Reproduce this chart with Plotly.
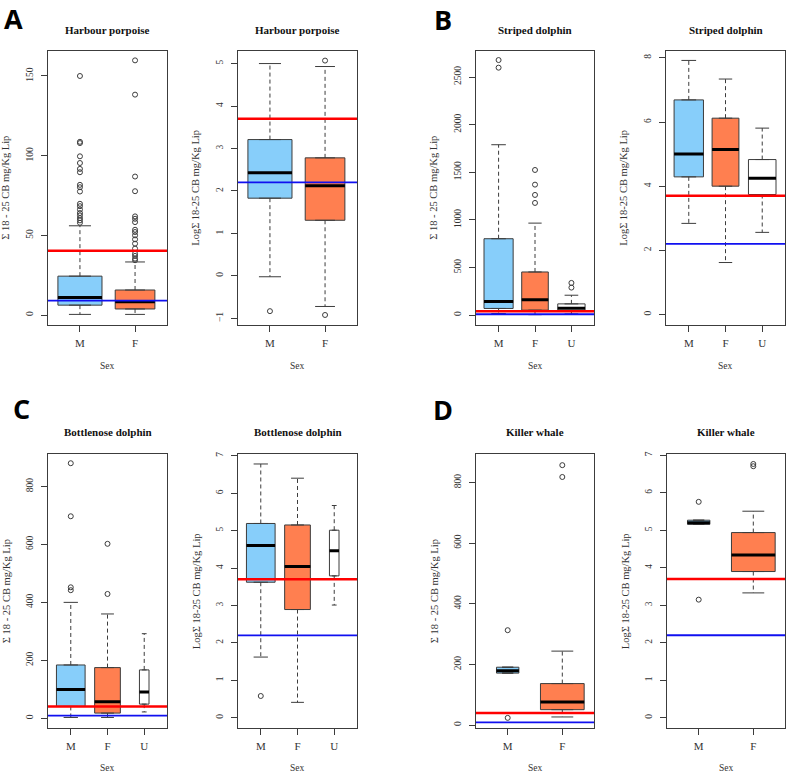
import plotly.graph_objects as go

SEX2 = ["M", "F"]
SEX3 = ["M", "F", "U"]

# rows per sex: lower whisker, Q1, median, Q3, upper whisker
hp_raw_stats = [[0.4, 6.2, 11.0, 24.4, 56.0], [0.4, 3.8, 8.3, 15.7, 33.3]]
hp_raw_out = [
    [150, 108.7, 107.9, 99.6, 95.4, 91.7, 89.6, 81.7, 80.2, 77.5, 69.8, 68.3,
     66.2, 64.0, 62.5, 60.8, 59.4, 57.9],
    [159.8, 138.3, 86.9, 77.7, 61.9, 60.4, 58.3, 53.5, 52.1, 50.0, 47.5, 44.8,
     41.7, 38.5, 37.1, 35.4, 34.4],
]
hp_log_stats = [[-0.02, 1.83, 2.43, 3.21, 5.0], [-0.72, 1.31, 2.12, 2.78, 4.93]]
hp_log_out = [[-0.83], [5.07, -0.92]]

sd_raw_stats = [[17, 70, 142, 802, 1789], [5, 52, 162, 453, 966], [13, 45, 72, 118, 209]]
sd_raw_out = [[2678, 2598], [1524, 1370, 1262, 1178], [338, 289]]
sd_log_stats = [[2.84, 4.29, 5.0, 6.69, 7.92], [1.62, 4.0, 5.14, 6.12, 7.34], [2.56, 3.74, 4.25, 4.83, 5.81]]
sd_log_out = [[], [], []]

bd_raw_stats = [[3, 41, 99, 184, 400], [3, 18, 57, 175, 360], [22, 49, 91, 167, 292]]
bd_raw_out = [[880, 697, 452, 442], [602, 429], []]
bd_log_stats = [[1.62, 3.62, 4.6, 5.19, 6.78], [0.41, 2.89, 4.04, 5.15, 6.4], [3.01, 3.79, 4.46, 5.01, 5.67]]
bd_log_out = [[0.58], [], []]

kw_raw_stats = [[171.5, 171.5, 179, 191, 191], [27, 51, 76, 137, 244]]
kw_raw_out = [[313, 24], [857, 818]]
kw_log_stats = [[5.16, 5.16, 5.2, 5.27, 5.27], [3.33, 3.9, 4.34, 4.94, 5.51]]
kw_log_out = [[5.76, 3.15], [6.77, 6.71]]

# relative box widths (varwidth, proportional to sqrt(n))
hp_width = [0.8, 0.72]
sd_width = [0.8, 0.73, 0.75]
bd_width = [0.78, 0.70, 0.26]
kw_width = [0.41, 0.8]

RED_RAW, BLUE_RAW = 40.4, 9.0
RED_LOG, BLUE_LOG = 3.7, 2.2

RAW_TITLE = "Σ 18 - 25 CB mg/Kg Lip"
LOG_TITLE = "LogΣ 18-25 CB mg/Kg Lip"

FILL = ["#87CEFA", "#FF7F50", "#FFFFFF"]
EDGE = "#3c3c3c"
SERIF = "Liberation Serif"

W, H = 787, 774


def fx(p):
    return p / W


def fy(p):
    return 1 - p / H


def label(text, xp, yp, font, angle=0):
    return dict(text=text, x=fx(xp), y=fy(yp), xref="paper", yref="paper",
                xanchor="center", yanchor="middle", showarrow=False,
                textangle=angle, font=font)


# stats, outliers, sexes, widths, title, ytitle, yrange, dtick, frame(px), red, blue
panels = [
    (hp_raw_stats, hp_raw_out, SEX2, hp_width, "Harbour porpoise", RAW_TITLE, [-6.1, 165.8], 50, (48, 167, 48, 323), RED_RAW, BLUE_RAW),
    (hp_log_stats, hp_log_out, SEX2, hp_width, "Harbour porpoise", LOG_TITLE, [-1.15, 5.3], 1, (238, 357, 48, 323), RED_LOG, BLUE_LOG),
    (sd_raw_stats, sd_raw_out, SEX3, sd_width, "Striped dolphin", RAW_TITLE, [-101, 2775], 500, (476, 594, 48, 323), RED_RAW, BLUE_RAW),
    (sd_log_stats, sd_log_out, SEX3, sd_width, "Striped dolphin", LOG_TITLE, [-0.32, 8.22], 2, (666, 785, 48, 323), RED_LOG, BLUE_LOG),
    (bd_raw_stats, bd_raw_out, SEX3, bd_width, "Bottlenose dolphin", RAW_TITLE, [-34, 911], 200, (48, 167, 453, 728), RED_RAW, BLUE_RAW),
    (bd_log_stats, bd_log_out, SEX3, bd_width, "Bottlenose dolphin", LOG_TITLE, [-0.28, 7.04], 1, (238, 357, 453, 728), RED_LOG, BLUE_LOG),
    (kw_raw_stats, kw_raw_out, SEX2, kw_width, "Killer whale", RAW_TITLE, [-10, 893], 200, (476, 594, 453, 728), RED_RAW, BLUE_RAW),
    (kw_log_stats, kw_log_out, SEX2, kw_width, "Killer whale", LOG_TITLE, [-0.28, 7.03], 1, (667, 785, 453, 728), RED_LOG, BLUE_LOG),
]

fig = go.Figure()
annotations = []
shapes = []

for k, (stats, outs, sexes, widths, title, ytitle, yrange, dtick, frame, red, blue) in enumerate(panels, start=1):
    xa = "x" if k == 1 else f"x{k}"
    ya = "y" if k == 1 else f"y{k}"
    x0, x1, y0, y1 = frame

    wx, wy, cx, cy, mx, my = [], [], [], [], [], []
    for j, sex in enumerate(sexes):
        pos = j + 1
        lo, q1, med, q3, hi = stats[j]
        w = widths[j]
        fig.add_trace(go.Box(
            x=[pos], q1=[q1], median=[med], q3=[q3], lowerfence=[q1], upperfence=[q3],
            width=w, fillcolor=FILL[j], line=dict(color=EDGE, width=1),
            boxpoints=False, xaxis=xa, yaxis=ya, showlegend=False, hoverinfo="skip",
        ))
        wx += [pos, pos, None, pos, pos, None]
        wy += [q3, hi, None, q1, lo, None]
        cx += [pos - w / 4, pos + w / 4, None, pos - w / 4, pos + w / 4, None]
        cy += [hi, hi, None, lo, lo, None]
        mx += [pos - w / 2, pos + w / 2, None]
        my += [med, med, None]

    fig.add_trace(go.Scatter(x=wx, y=wy, mode="lines", line=dict(color=EDGE, width=1, dash="4px,3px"),
                             xaxis=xa, yaxis=ya, showlegend=False, hoverinfo="skip"))
    fig.add_trace(go.Scatter(x=cx, y=cy, mode="lines", line=dict(color=EDGE, width=1),
                             xaxis=xa, yaxis=ya, showlegend=False, hoverinfo="skip"))
    fig.add_trace(go.Scatter(x=mx, y=my, mode="lines", line=dict(color="black", width=3),
                             xaxis=xa, yaxis=ya, showlegend=False, hoverinfo="skip"))
    ox, oy = [], []
    for j, vals in enumerate(outs):
        ox += [j + 1] * len(vals)
        oy += vals
    fig.add_trace(go.Scatter(x=ox, y=oy, mode="markers",
                             marker=dict(symbol="circle-open", size=5, color=EDGE, line=dict(width=1)),
                             xaxis=xa, yaxis=ya, showlegend=False, hoverinfo="skip"))

    for val, col, lw in [(red, "#FF0000", 2.5), (blue, "#1010F0", 1.8)]:
        shapes.append(dict(type="line", xref=f"{xa} domain", x0=0, x1=1, yref=ya, y0=val, y1=val,
                           line=dict(color=col, width=lw)))

    n = len(sexes)
    xr = [0.42, 2.58] if n == 2 else [0.38, 3.62]
    fig.update_layout(**{
        ("xaxis" if k == 1 else f"xaxis{k}"): dict(
            domain=[fx(x0), fx(x1)], range=xr, anchor=ya,
            tickvals=list(range(1, n + 1)), ticktext=sexes,
            ticks="outside", ticklen=6, tickcolor=EDGE, ticklabelstandoff=2,
            showline=True, mirror=True, linecolor=EDGE, linewidth=1,
            showgrid=False, zeroline=False, fixedrange=True,
            tickfont=dict(family=SERIF, size=11, color="#333"),
        ),
        ("yaxis" if k == 1 else f"yaxis{k}"): dict(
            domain=[fy(y1), fy(y0)], range=yrange, anchor=xa, dtick=dtick, tick0=0,
            ticks="outside", ticklen=6, tickcolor=EDGE, tickangle=-90, ticklabelstandoff=4,
            showline=True, mirror=True, linecolor=EDGE, linewidth=1,
            showgrid=False, zeroline=False, fixedrange=True,
            tickfont=dict(family=SERIF, size=9.5, color="#333"),
        ),
    })

    xc = (x0 + x1) / 2
    title_y = 27 if y0 < 200 else 431
    sex_y = 364 if y0 < 200 else 768
    annotations.append(label(title, xc, title_y, dict(family=SERIF, size=11, color="#111", weight="bold")))
    annotations.append(label("Sex", xc, sex_y, dict(family=SERIF, size=9.5, color="#333")))
    annotations.append(label(ytitle, x0 - 42, (y0 + y1) / 2, dict(family=SERIF, size=10.5, color="#333"), angle=-90))

for letter, lx, ly in [("A", 13, 16), ("B", 443, 17), ("C", 21, 407), ("D", 443, 408)]:
    annotations.append(label(letter, lx, ly, dict(family="Open Sans", size=27, color="black", weight="bold")))

fig.update_layout(
    width=W, height=H, margin=dict(l=0, r=0, t=0, b=0),
    paper_bgcolor="white", plot_bgcolor="white",
    annotations=annotations, shapes=shapes,
)

# page body has a default 8px margin; drop it so the figure fills the window
fig.write_html("out.html", config={"displayModeBar": False},
               post_script="document.body.style.margin='0';document.body.style.overflow='hidden';")
